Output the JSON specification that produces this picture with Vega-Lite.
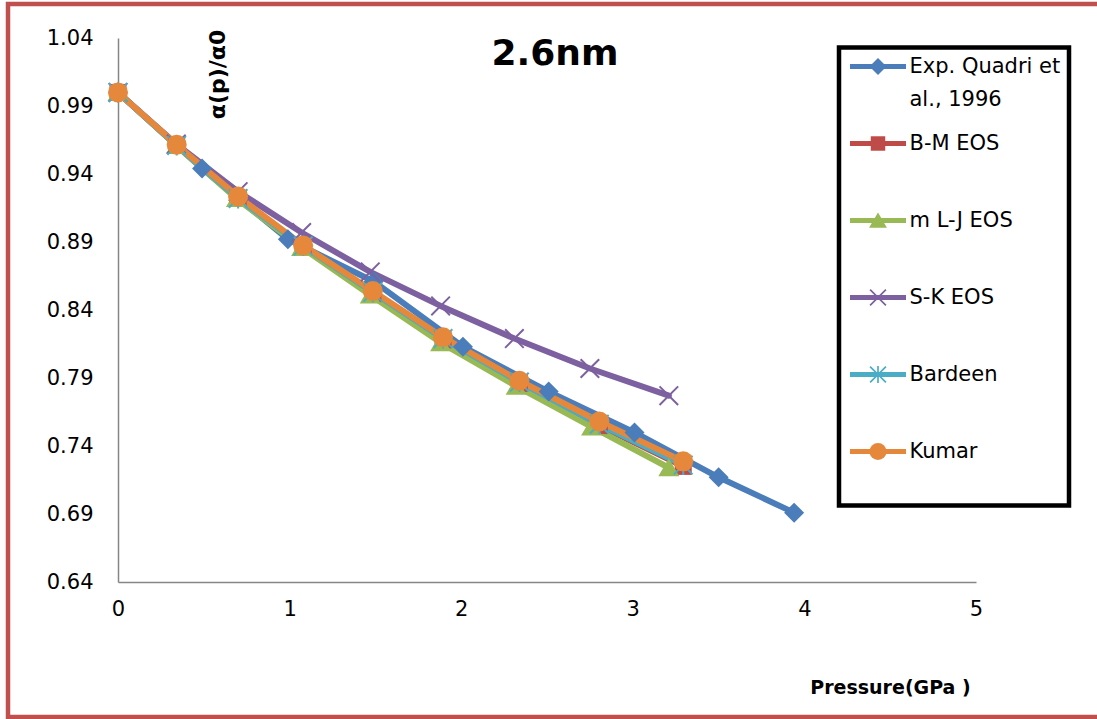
{
  "$schema": "https://vega.github.io/schema/vega-lite/v6.json",
  "width": 1300,
  "height": 713,
  "autosize": {"type": "none"},
  "padding": {"left": 8, "top": 4, "right": -211, "bottom": 2},
  "background": "white",
  "config": {
    "view": {"stroke": "#C0504D", "strokeWidth": 4.5},
    "font": "DejaVu Sans",
    "legend": {"strokeWidth": 4.5},
    "style": {"guide-label": {"lineHeight": 33}}
  },
  "title": {
    "text": "2.6nm",
    "font": "DejaVu Sans",
    "fontSize": 36,
    "fontWeight": "bold",
    "color": "black",
    "anchor": "start",
    "frame": "group",
    "baseline": "middle",
    "align": "center",
    "dx": 547,
    "offset": -86
  },
  "data": {
    "values": [
      {"series": "Exp. Quadri et al., 1996", "p": 0, "a": 1.0},
      {"series": "Exp. Quadri et al., 1996", "p": 0.49, "a": 0.944},
      {"series": "Exp. Quadri et al., 1996", "p": 0.99, "a": 0.892},
      {"series": "Exp. Quadri et al., 1996", "p": 1.49, "a": 0.861},
      {"series": "Exp. Quadri et al., 1996", "p": 2.01, "a": 0.813},
      {"series": "Exp. Quadri et al., 1996", "p": 2.51, "a": 0.78},
      {"series": "Exp. Quadri et al., 1996", "p": 3.01, "a": 0.75},
      {"series": "Exp. Quadri et al., 1996", "p": 3.5, "a": 0.717},
      {"series": "Exp. Quadri et al., 1996", "p": 3.94, "a": 0.691},
      {"series": "B-M EOS", "p": 0, "a": 1.0},
      {"series": "B-M EOS", "p": 0.342, "a": 0.961},
      {"series": "B-M EOS", "p": 0.7, "a": 0.922},
      {"series": "B-M EOS", "p": 1.079, "a": 0.886},
      {"series": "B-M EOS", "p": 1.485, "a": 0.852},
      {"series": "B-M EOS", "p": 1.894, "a": 0.818},
      {"series": "B-M EOS", "p": 2.339, "a": 0.786},
      {"series": "B-M EOS", "p": 2.805, "a": 0.755},
      {"series": "B-M EOS", "p": 3.294, "a": 0.725},
      {"series": "m L-J EOS", "p": 0, "a": 1.0},
      {"series": "m L-J EOS", "p": 0.34, "a": 0.961},
      {"series": "m L-J EOS", "p": 0.69, "a": 0.922},
      {"series": "m L-J EOS", "p": 1.07, "a": 0.886},
      {"series": "m L-J EOS", "p": 1.47, "a": 0.851},
      {"series": "m L-J EOS", "p": 1.88, "a": 0.816},
      {"series": "m L-J EOS", "p": 2.32, "a": 0.784},
      {"series": "m L-J EOS", "p": 2.76, "a": 0.754},
      {"series": "m L-J EOS", "p": 3.21, "a": 0.724},
      {"series": "S-K EOS", "p": 0, "a": 1.0},
      {"series": "S-K EOS", "p": 0.34, "a": 0.962},
      {"series": "S-K EOS", "p": 0.7, "a": 0.927},
      {"series": "S-K EOS", "p": 1.07, "a": 0.897},
      {"series": "S-K EOS", "p": 1.47, "a": 0.868},
      {"series": "S-K EOS", "p": 1.88, "a": 0.843},
      {"series": "S-K EOS", "p": 2.31, "a": 0.819},
      {"series": "S-K EOS", "p": 2.75, "a": 0.797},
      {"series": "S-K EOS", "p": 3.21, "a": 0.777},
      {"series": "Bardeen", "p": 0, "a": 1.0},
      {"series": "Bardeen", "p": 0.342, "a": 0.961},
      {"series": "Bardeen", "p": 0.7, "a": 0.922},
      {"series": "Bardeen", "p": 1.079, "a": 0.887},
      {"series": "Bardeen", "p": 1.485, "a": 0.853},
      {"series": "Bardeen", "p": 1.894, "a": 0.819},
      {"series": "Bardeen", "p": 2.339, "a": 0.787},
      {"series": "Bardeen", "p": 2.805, "a": 0.756},
      {"series": "Bardeen", "p": 3.294, "a": 0.726},
      {"series": "Kumar", "p": 0, "a": 1.0},
      {"series": "Kumar", "p": 0.342, "a": 0.9615},
      {"series": "Kumar", "p": 0.7, "a": 0.9235},
      {"series": "Kumar", "p": 1.079, "a": 0.8875},
      {"series": "Kumar", "p": 1.485, "a": 0.854},
      {"series": "Kumar", "p": 1.894, "a": 0.82},
      {"series": "Kumar", "p": 2.339, "a": 0.788},
      {"series": "Kumar", "p": 2.805, "a": 0.758},
      {"series": "Kumar", "p": 3.294, "a": 0.7287}
    ]
  },
  "layer": [
    {
      "mark": {"type": "line", "strokeWidth": 6, "strokeJoin": "round", "strokeCap": "round"},
      "encoding": {
        "x": {
          "field": "p",
          "type": "quantitative",
          "scale": {"domain": [0, 5], "range": [110, 968], "nice": false, "zero": false},
          "axis": {
            "values": [0, 1, 2, 3, 4, 5],
            "format": "d",
            "offset": -135,
            "ticks": false,
            "grid": false,
            "domainColor": "#868686",
            "domainWidth": 1.5,
            "labelFont": "DejaVu Sans",
            "labelFontSize": 21,
            "labelColor": "black",
            "labelPadding": 16,
            "labelFlush": false,
            "labelOverlap": false,
            "title": "Pressure(GPa )",
            "titleFont": "DejaVu Sans",
            "titleFontSize": 19,
            "titleFontWeight": "bold",
            "titleColor": "black",
            "titleX": 882,
            "titleY": 105,
            "titleAlign": "center",
            "titleBaseline": "middle"
          }
        },
        "y": {
          "field": "a",
          "type": "quantitative",
          "scale": {"domain": [0.64, 1.04], "range": [578, 34], "nice": false, "zero": false},
          "axis": {
            "values": [0.64, 0.69, 0.74, 0.79, 0.84, 0.89, 0.94, 0.99, 1.04],
            "format": ".2f",
            "offset": -110,
            "ticks": false,
            "grid": false,
            "domainColor": "#868686",
            "domainWidth": 1.5,
            "labelFont": "DejaVu Sans",
            "labelFontSize": 21,
            "labelColor": "black",
            "labelPadding": 25,
            "labelFlush": false,
            "labelOverlap": false,
            "title": "α(p)/α0",
            "titleFont": "DejaVu Sans",
            "titleFontSize": 22,
            "titleFontWeight": "bold",
            "titleColor": "black",
            "titleAngle": 270,
            "titleX": 99,
            "titleY": 70,
            "titleAlign": "center",
            "titleBaseline": "middle"
          }
        },
        "stroke": {
          "field": "series",
          "type": "nominal",
          "sort": ["Exp. Quadri et al., 1996", "B-M EOS", "m L-J EOS", "S-K EOS", "Bardeen", "Kumar"],
          "scale": {
            "range": ["#4A7DBA", "#BE4B48", "#98B954", "#7D60A0", "#4BACC6", "#E5883C"]
          },
          "legend": {
            "orient": "none",
            "legendX": 831,
            "legendY": 43.5,
            "title": "\u00a0\u00a0\u00a0\u00a0\u00a0\u00a0\u00a0\u00a0\u00a0\u00a0\u00a0\u00a0\u00a0\u00a0\u00a0\u00a0\u00a0\u00a0\u00a0\u00a0\u00a0\u00a0\u00a0\u00a0\u00a0\u00a0\u00a0\u00a0\u00a0\u00a0\u00a0\u00a0\u00a0\u00a0",
            "titleOrient": "bottom",
            "titleFontSize": 20,
            "titlePadding": 14.5,
            "titleLimit": 400,
            "symbolType": "M-4,0L4,0",
            "symbolSize": 196,
            "symbolStrokeWidth": 5,
            "symbolOffset": 20,
            "labelFont": "DejaVu Sans",
            "labelFontSize": 21,
            "labelColor": "black",
            "labelLimit": 400,
            "labelOffset": 21,
            "labelExpr": "datum.label == 'Exp. Quadri et al., 1996' ? ['Exp. Quadri et', 'al., 1996'] : datum.label",
            "strokeColor": "black",
            "padding": 8.5,
            "rowPadding": 22,
            "gridAlign": "all"
          }
        }
      }
    },
    {
      "mark": {"type": "point", "filled": true, "size": 400, "opacity": 1},
      "encoding": {
        "x": {"field": "p", "type": "quantitative"},
        "y": {"field": "a", "type": "quantitative"},
        "color": {
          "field": "series",
          "type": "nominal",
          "scale": {
            "domain": ["Exp. Quadri et al., 1996", "B-M EOS", "m L-J EOS", "S-K EOS", "Bardeen", "Kumar"],
            "range": ["#4A7DBA", "#BE4B48", "#98B954", "#7D60A0", "#4BACC6", "#E5883C"]
          },
          "legend": {
            "orient": "none",
            "legendX": 831,
            "legendY": 43.5,
            "title": null,
            "symbolSize": 290,
            "symbolStrokeWidth": 0,
            "symbolOffset": 20,
            "labelFont": "DejaVu Sans",
            "labelFontSize": 21,
            "labelOpacity": 0,
            "labelLimit": 400,
            "labelOffset": 21,
            "labelExpr": "datum.label == 'Exp. Quadri et al., 1996' ? ['Exp. Quadri et', 'al., 1996'] : datum.label",
            "strokeColor": "transparent",
            "padding": 8.5,
            "rowPadding": 22,
            "gridAlign": "all"
          }
        },
        "shape": {
          "field": "series",
          "type": "nominal",
          "scale": {
            "domain": ["Exp. Quadri et al., 1996", "B-M EOS", "m L-J EOS", "S-K EOS", "Bardeen", "Kumar"],
            "range": [
              "diamond",
              "M-0.85,-0.85L0.85,-0.85L0.85,0.85L-0.85,0.85Z",
              "M0,-0.95L1.05,0.85L-1.05,0.85Z",
              "M-1,-0.86L0.86,1L1,0.86L-0.86,-1ZM-1,0.86L-0.86,1L1,-0.86L0.86,-1Z",
              "M-1,-0.86L0.86,1L1,0.86L-0.86,-1ZM-1,0.86L-0.86,1L1,-0.86L0.86,-1ZM-0.1,-1L-0.1,1L0.1,1L0.1,-1Z",
              "circle"
            ]
          },
          "legend": {
            "orient": "none",
            "legendX": 831,
            "legendY": 43.5,
            "title": null,
            "symbolSize": 290,
            "symbolStrokeWidth": 0,
            "symbolOffset": 20,
            "labelFont": "DejaVu Sans",
            "labelFontSize": 21,
            "labelOpacity": 0,
            "labelLimit": 400,
            "labelOffset": 21,
            "labelExpr": "datum.label == 'Exp. Quadri et al., 1996' ? ['Exp. Quadri et', 'al., 1996'] : datum.label",
            "strokeColor": "transparent",
            "padding": 8.5,
            "rowPadding": 22,
            "gridAlign": "all"
          }
        }
      }
    }
  ]
}
